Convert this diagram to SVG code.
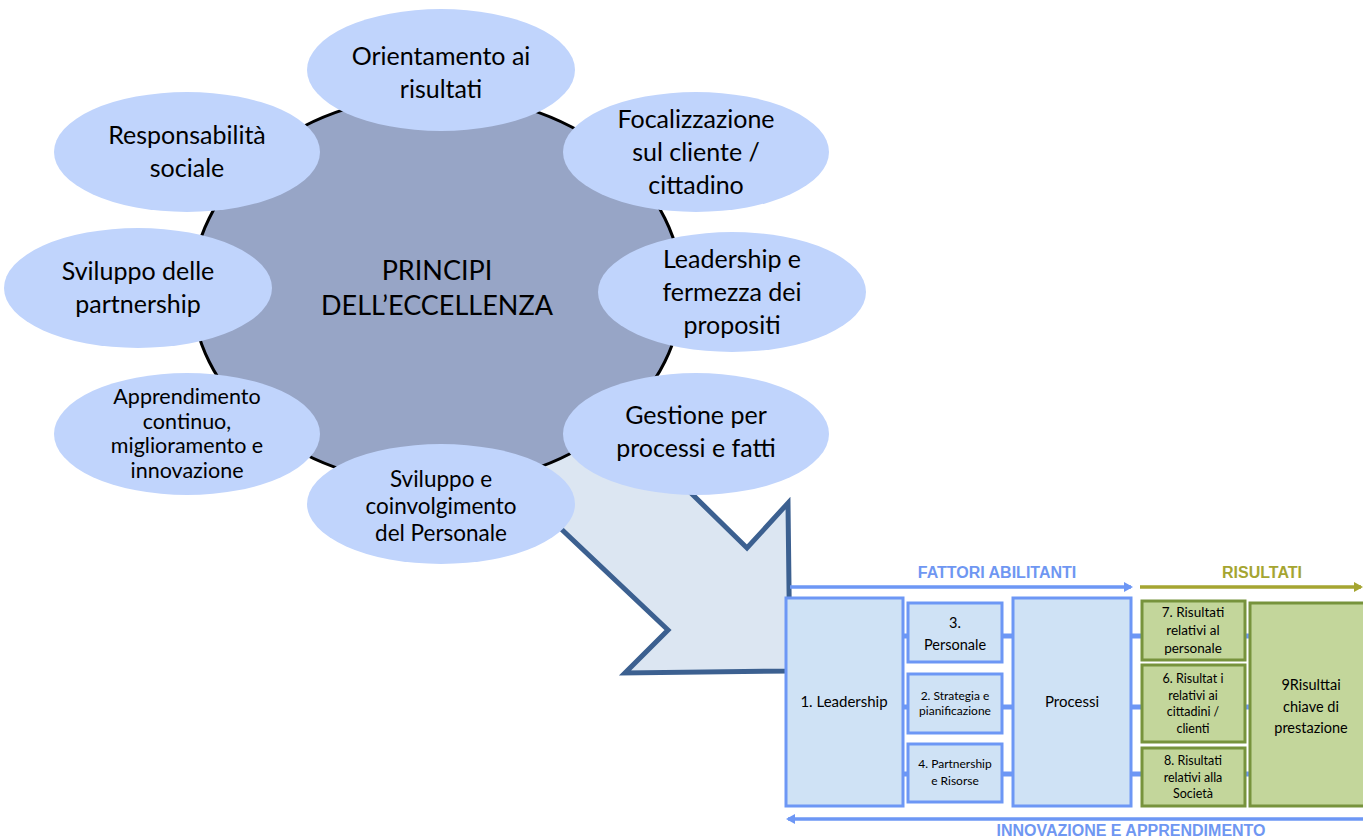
<svg xmlns="http://www.w3.org/2000/svg" width="1363" height="837" viewBox="0 0 1363 837">
<style>
.sat{fill:#c0d4fc;stroke:none}
.st{font-family:Lato,"Liberation Sans",sans-serif;font-size:25px;fill:#000;text-anchor:middle}
.sts{font-family:Lato,"Liberation Sans",sans-serif;font-size:22.5px;fill:#000;text-anchor:middle}
.sta{font-family:Lato,"Liberation Sans",sans-serif;font-size:21.5px;fill:#000;text-anchor:middle}
.stp{font-family:Lato,"Liberation Sans",sans-serif;font-size:27px;fill:#000;text-anchor:middle}
.bb{fill:#cfe2f5;stroke:#6d97f5;stroke-width:3}
.gb{fill:#c3d69b;stroke:#77933c;stroke-width:3}
.bt{font-family:Lato,"Liberation Sans",sans-serif;fill:#000;text-anchor:middle}
.stub{stroke:#6d97f5;stroke-width:5}
.hd{font-family:"Liberation Sans",Arial,sans-serif;font-weight:bold;font-size:16px;text-anchor:middle}
</style>
<defs>
<marker id="ab" markerWidth="9" markerHeight="10" refX="7" refY="5" orient="auto" markerUnits="userSpaceOnUse"><path d="M0,0 L9,5 L0,10 z" fill="#6d97f5"/></marker>
<marker id="ag" markerWidth="9" markerHeight="10" refX="7" refY="5" orient="auto" markerUnits="userSpaceOnUse"><path d="M0,0 L9,5 L0,10 z" fill="#a5a531"/></marker>
</defs>
<rect width="1363" height="837" fill="#fff"/>
<g id="big-arrow">
<polygon points="480,440 560,380 640,443 747,548 788,503 790,671 625,673 668,630 520,490" fill="#dce6f2" stroke="#3c6090" stroke-width="5" stroke-linejoin="miter"/>
</g>
<g id="principi">
<ellipse cx="437" cy="290" rx="245" ry="195" fill="#97a5c6" stroke="#000" stroke-width="3"/>
<text x="437" y="280" class="stp">PRINCIPI</text>
<text x="437" y="315" class="stp">DELL’ECCELLENZA</text>
</g>
<g id="orientamento">
<ellipse class="sat" cx="441" cy="70" rx="134" ry="61"/>
<text class="st" x="441" y="65">Orientamento ai</text>
<text class="st" x="441" y="98">risultati</text>
</g>
<g id="focalizzazione">
<ellipse class="sat" cx="696" cy="152" rx="133" ry="60"/>
<text class="st" x="696" y="128">Focalizzazione</text>
<text class="st" x="696" y="161">sul cliente /</text>
<text class="st" x="696" y="194">cittadino</text>
</g>
<g id="leadership-fermezza">
<ellipse class="sat" cx="732" cy="292" rx="134" ry="60"/>
<text class="st" x="732" y="268">Leadership e</text>
<text class="st" x="732" y="301">fermezza dei</text>
<text class="st" x="732" y="334">propositi</text>
</g>
<g id="gestione">
<ellipse class="sat" cx="696" cy="434" rx="133" ry="61"/>
<text class="st" x="696" y="424">Gestione per</text>
<text class="st" x="696" y="457">processi e fatti</text>
</g>
<g id="sviluppo-personale">
<ellipse class="sat" cx="441" cy="504" rx="134" ry="60"/>
<text class="sts" x="441" y="487">Sviluppo e</text>
<text class="sts" x="441" y="514">coinvolgimento</text>
<text class="sts" x="441" y="541">del Personale</text>
</g>
<g id="apprendimento">
<ellipse class="sat" cx="187" cy="434" rx="133" ry="61"/>
<text class="sta" x="187" y="404">Apprendimento</text>
<text class="sta" x="187" y="428.5">continuo,</text>
<text class="sta" x="187" y="453">miglioramento e</text>
<text class="sta" x="187" y="477.5">innovazione</text>
</g>
<g id="partnership">
<ellipse class="sat" cx="138" cy="288" rx="134" ry="60"/>
<text class="st" x="138" y="280">Sviluppo delle</text>
<text class="st" x="138" y="313">partnership</text>
</g>
<g id="responsabilita">
<ellipse class="sat" cx="187" cy="152" rx="133" ry="60"/>
<text class="st" x="187" y="144">Responsabilità</text>
<text class="st" x="187" y="177">sociale</text>
</g>
<g id="connectors">
<line x1="790" y1="587" x2="1131" y2="587" stroke="#6d97f5" stroke-width="3.5" marker-end="url(#ab)"/>
<line x1="1140" y1="587" x2="1361" y2="587" stroke="#a5a531" stroke-width="3.5" marker-end="url(#ag)"/>
<line x1="1363" y1="819" x2="788" y2="819" stroke="#6d97f5" stroke-width="3.5" marker-end="url(#ab)"/>
<line class="stub" x1="903" y1="636" x2="908" y2="636"/>
<line class="stub" x1="903" y1="707" x2="908" y2="707"/>
<line class="stub" x1="903" y1="774" x2="908" y2="774"/>
<line class="stub" x1="1002" y1="636" x2="1013" y2="636"/>
<line class="stub" x1="1002" y1="707" x2="1013" y2="707"/>
<line class="stub" x1="1002" y1="774" x2="1013" y2="774"/>
<line class="stub" x1="1131" y1="636" x2="1142" y2="636"/>
<line class="stub" x1="1131" y1="707" x2="1142" y2="707"/>
<line class="stub" x1="1131" y1="774" x2="1142" y2="774"/>
<line class="stub" x1="1245" y1="636" x2="1250" y2="636"/>
<line class="stub" x1="1245" y1="707" x2="1250" y2="707"/>
<line class="stub" x1="1245" y1="774" x2="1250" y2="774"/>
</g>
<g id="labels">
<text class="hd" x="997" y="578" fill="#6f97f2">FATTORI ABILITANTI</text>
<text class="hd" x="1262" y="578" fill="#a5a531">RISULTATI</text>
<text class="hd" x="1131" y="836" fill="#6f97f2">INNOVAZIONE E APPRENDIMENTO</text>
</g>
<g id="leadership">
<rect class="bb" x="786" y="598" width="117" height="208"/>
<text class="bt" x="844" y="707" font-size="15">1. Leadership</text>
</g>
<g id="personale">
<rect class="bb" x="908" y="603" width="94" height="59"/>
<text class="bt" x="955" y="628" font-size="14.5">3.</text>
<text class="bt" x="955" y="650" font-size="14.5">Personale</text>
</g>
<g id="strategia">
<rect class="bb" x="908" y="674" width="94" height="59"/>
<text class="bt" x="955" y="700" font-size="12">2. Strategia e</text>
<text class="bt" x="955" y="715" font-size="12">pianificazione</text>
</g>
<g id="partnership-risorse">
<rect class="bb" x="908" y="744" width="94" height="58"/>
<text class="bt" x="955" y="768" font-size="12">4. Partnership</text>
<text class="bt" x="955" y="785" font-size="12">e Risorse</text>
</g>
<g id="processi">
<rect class="bb" x="1013" y="598" width="118" height="208"/>
<text class="bt" x="1072" y="707" font-size="15">Processi</text>
</g>
<g id="ris-personale">
<rect class="gb" x="1142" y="601" width="103" height="59"/>
<text class="bt" x="1193" y="617" font-size="13.5">7. Risultati</text>
<text class="bt" x="1193" y="635" font-size="13.5">relativi al</text>
<text class="bt" x="1193" y="653" font-size="13.5">personale</text>
</g>
<g id="ris-cittadini">
<rect class="gb" x="1142" y="665" width="103" height="77"/>
<text class="bt" x="1193" y="683" font-size="12.5">6. Risultat i</text>
<text class="bt" x="1193" y="700" font-size="12.5">relativi ai</text>
<text class="bt" x="1193" y="716" font-size="12.5">cittadini /</text>
<text class="bt" x="1193" y="733" font-size="12.5">clienti</text>
</g>
<g id="ris-societa">
<rect class="gb" x="1142" y="748" width="103" height="58"/>
<text class="bt" x="1193" y="765" font-size="12.5">8. Risultati</text>
<text class="bt" x="1193" y="782" font-size="12.5">relativi alla</text>
<text class="bt" x="1193" y="798" font-size="12.5">Società</text>
</g>
<g id="ris-chiave">
<rect class="gb" x="1250" y="603" width="118" height="203"/>
<text class="bt" x="1311" y="690" font-size="14.5">9Risulttai</text>
<text class="bt" x="1311" y="712" font-size="14.5">chiave di</text>
<text class="bt" x="1311" y="733" font-size="14.5">prestazione</text>
</g>
</svg>
